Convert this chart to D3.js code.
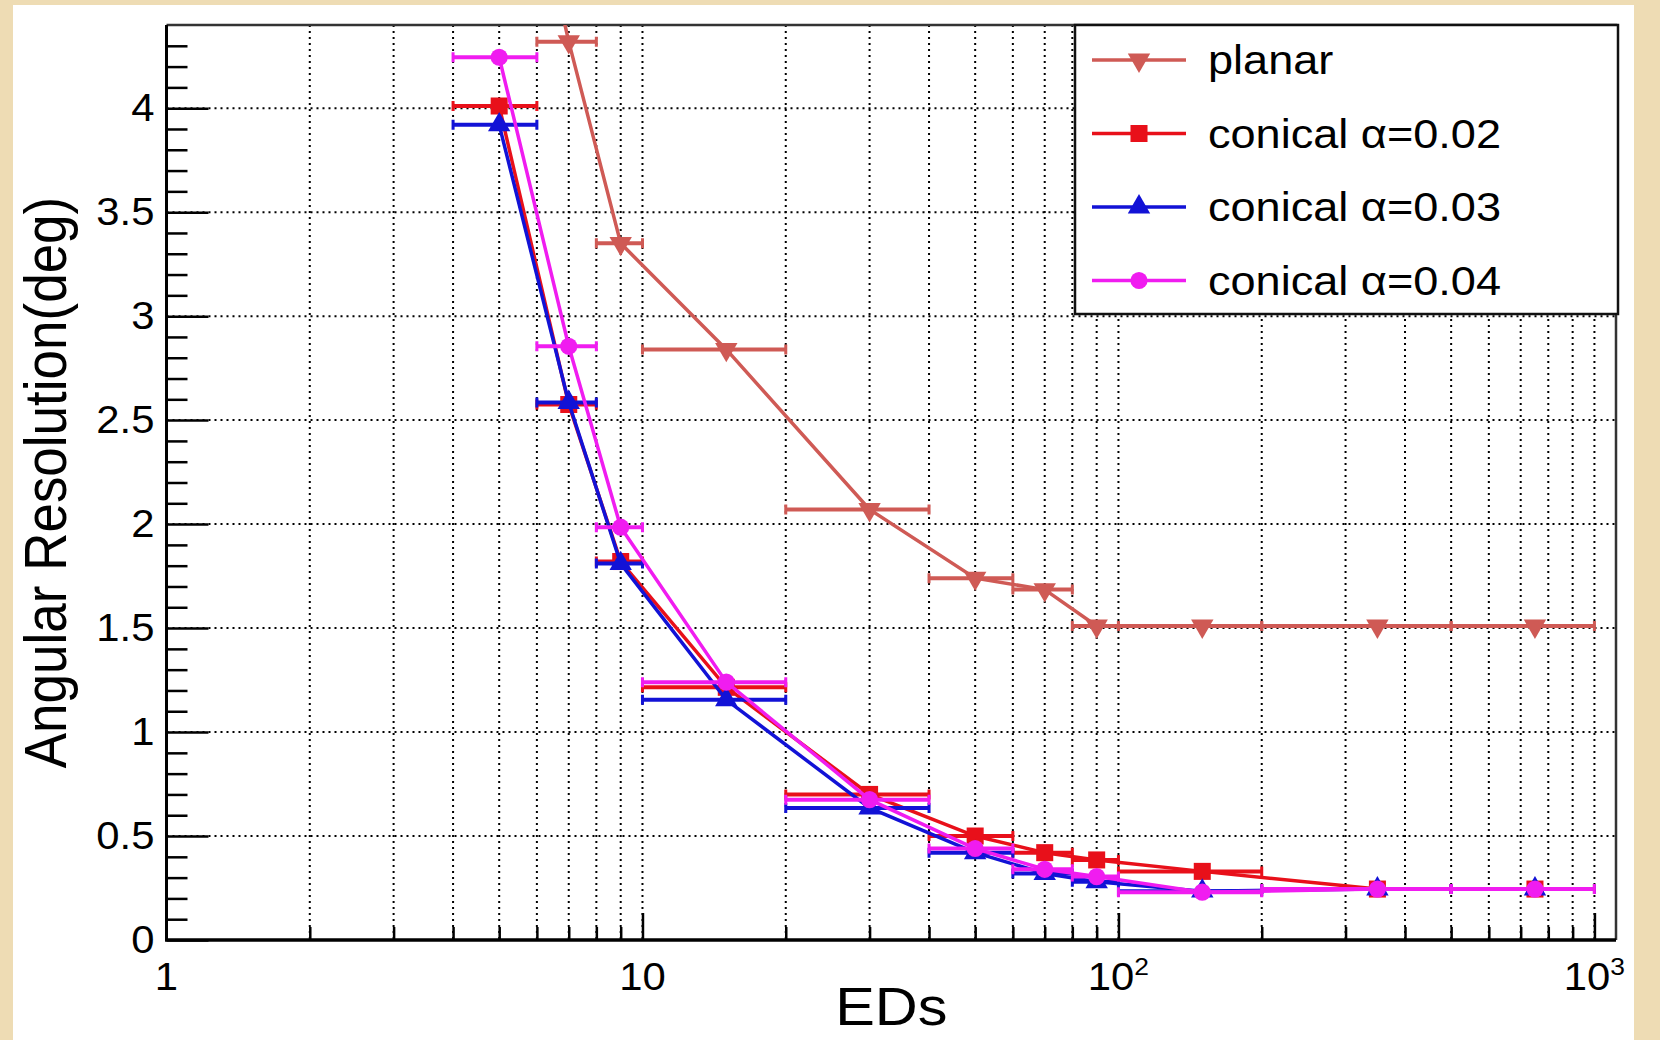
<!DOCTYPE html>
<html>
<head>
<meta charset="utf-8">
<script src="https://cdn.jsdelivr.net/npm/d3@7"></script>
<style>
  body { margin: 0; background: #eedcb4; }
  text { font-family: "Liberation Sans", Arial, Helvetica, sans-serif; fill: #000; }
</style>
</head>
<body>
<div id="chart"></div>
<script>
// bins on the x axis (EDs)
const binLow = [4, 6, 8, 10, 20, 40, 60, 80, 100, 200, 500]
const binHigh = [6, 8, 10, 20, 40, 60, 80, 100, 200, 500, 1000]
const binCenter = [5, 7, 9, 15, 30, 50, 70, 90, 150, 350, 750]

// angular resolution per series (deg)
const planar = [5.8, 4.32, 3.35, 2.84, 2.07, 1.74, 1.685, 1.51, 1.51, 1.51, 1.51]
const conical02 = [4.01, 2.575, 1.82, 1.215, 0.70, 0.50, 0.42, 0.385, 0.33, 0.245, 0.245]
const conical03 = [3.92, 2.585, 1.81, 1.155, 0.635, 0.42, 0.32, 0.28, 0.235, 0.245, 0.245]
const conical04 = [4.245, 2.855, 1.985, 1.24, 0.675, 0.44, 0.34, 0.305, 0.23, 0.245, 0.245]

const seriesNames = ["planar", "conical \u03b1=0.02", "conical \u03b1=0.03", "conical \u03b1=0.04"]
const seriesColors = ["#cf5a55", "#e8101a", "#1212d6", "#f01cf0"]
const seriesMarkers = ["triangleDown", "square", "triangle", "circle"]

// axis ticks
const yMajor = [0, 0.5, 1, 1.5, 2, 2.5, 3, 3.5, 4]
const yMinor = [0.1, 0.2, 0.3, 0.4, 0.6, 0.7, 0.8, 0.9, 1.1, 1.2, 1.3, 1.4, 1.6, 1.7, 1.8, 1.9,
  2.1, 2.2, 2.3, 2.4, 2.6, 2.7, 2.8, 2.9, 3.1, 3.2, 3.3, 3.4, 3.6, 3.7, 3.8, 3.9, 4.1, 4.2, 4.3]
const xMajor = [10, 100, 1000]
const xMinor = [2, 3, 4, 5, 6, 7, 8, 9, 20, 30, 40, 50, 60, 70, 80, 90, 200, 300, 400, 500, 600, 700, 800, 900]
const xLabelValues = [1, 10, 100, 1000]
const xLabelBase = ["1", "10", "10", "10"]
const xLabelExp = ["", "", "2", "3"]

const width = 1660
const height = 1040
const margin = {top: 25, right: 44, bottom: 100, left: 166.5}
const plotW = width - margin.left - margin.right
const plotH = height - margin.top - margin.bottom
const stretch = "scale(1.1,1)"
const markerSize = 290

var xScale = d3.scaleLog()
    .domain([1, 1110])
    .range([0, plotW])

var yScale = d3.scaleLinear()
    .domain([0, 4.4])
    .range([plotH, 0])

var svg = d3.select("#chart")
  .append("svg")
    .attr("width", width)
    .attr("height", height)

// parchment border and white canvas
svg.append("rect")
    .attr("width", width)
    .attr("height", height)
    .attr("fill", "#eedcb4")
svg.append("rect")
    .attr("x", 13)
    .attr("y", 5)
    .attr("width", 1621)
    .attr("height", height - 5)
    .attr("fill", "#fff")

var g = svg.append("g")
    .attr("transform", "translate(" + margin.left + "," + margin.top + ")")

g.append("clipPath")
    .attr("id", "clip")
  .append("rect")
    .attr("width", plotW)
    .attr("height", plotH)

// dotted grid
var grid = g.append("g")
    .attr("stroke", "#000")
    .attr("stroke-width", 2)
    .attr("stroke-dasharray", "2,4")

grid.selectAll(".vgrid")
    .data(xMinor.concat(xMajor))
    .enter()
    .append("line")
    .attr("x1", function(d) { return xScale(d); })
    .attr("x2", function(d) { return xScale(d); })
    .attr("y1", 0)
    .attr("y2", plotH)

grid.selectAll(".hgrid")
    .data(yMajor.slice(1))
    .enter()
    .append("line")
    .attr("x1", 0)
    .attr("x2", plotW)
    .attr("y1", function(d) { return yScale(d); })
    .attr("y2", function(d) { return yScale(d); })

// frame top / right
g.append("path")
    .attr("d", "M0,0H" + plotW + "V" + plotH)
    .attr("fill", "none")
    .attr("stroke", "#333")
    .attr("stroke-width", 2.5)

// y axis, ticks point into the plot
g.append("g")
    .attr("class", "y-minor")
    .call(d3.axisLeft(yScale).tickValues(yMinor).tickSize(-21).tickFormat(""))
g.append("g")
    .attr("class", "y-axis")
    .call(d3.axisLeft(yScale).tickValues(yMajor).tickSize(-42).tickPadding(11).tickFormat(d3.format("")))

g.selectAll(".y-axis text")
    .attr("font-size", 38)
    .attr("transform", stretch)

// x axis
g.append("g")
    .attr("class", "x-minor")
    .attr("transform", "translate(0," + plotH + ")")
    .call(d3.axisBottom(xScale).tickValues(xMinor).tickSize(-13).tickFormat(""))
g.append("g")
    .attr("class", "x-axis")
    .attr("transform", "translate(0," + plotH + ")")
    .call(d3.axisBottom(xScale).tickValues(xMajor).tickSize(-27).tickFormat(""))

g.selectAll(".domain").remove()
g.selectAll(".tick line")
    .attr("stroke", "#000")
    .attr("stroke-width", 2.5)

// axis lines
g.append("line")
    .attr("x1", 0).attr("x2", 0)
    .attr("y1", 0).attr("y2", plotH)
    .attr("stroke", "#000")
    .attr("stroke-width", 3)
g.append("line")
    .attr("x1", -1.5).attr("x2", plotW)
    .attr("y1", plotH).attr("y2", plotH)
    .attr("stroke", "#000")
    .attr("stroke-width", 3.5)

// x tick labels with exponents
var xLabels = g.append("g")
    .selectAll("text")
    .data(xLabelValues)
    .enter()
    .append("text")
    .attr("transform", function(d) { return "translate(" + xScale(d) + "," + (plotH + 50) + ") " + stretch; })
    .attr("text-anchor", "middle")
    .attr("font-size", 38)

xLabels.append("tspan")
    .text(function(d, i) { return xLabelBase[i]; })
xLabels.append("tspan")
    .attr("font-size", 24)
    .attr("dy", -15)
    .text(function(d, i) { return xLabelExp[i]; })

// axis titles
svg.append("text")
    .attr("transform", "translate(" + (margin.left + plotW / 2) + ",1025) " + stretch)
    .attr("text-anchor", "middle")
    .attr("font-size", 54)
    .text("EDs")

svg.append("text")
    .attr("transform", "translate(66," + (margin.top + plotH / 2) + ") " + stretch + " rotate(-90)")
    .attr("text-anchor", "middle")
    .attr("font-size", 53)
    .text("Angular Resolution(deg)")

// marker shapes
function markerPath(type, size) {
  if (type == "circle") return d3.symbol(d3.symbolCircle, size * 0.8)()
  if (type == "square") return d3.symbol(d3.symbolSquare, size)()
  return d3.symbol(d3.symbolTriangle, size * 0.75)()
}

function markerTransform(type, x, y) {
  var t = "translate(" + x + "," + y + ")"
  if (type == "triangleDown") t += " rotate(180)"
  return t
}

// draw every series: line, error bars, markers
var seriesData = [planar, conical02, conical03, conical04]

var plot = g.append("g")
    .attr("clip-path", "url(#clip)")

var line = d3.line()
    .x(function(d, i) { return xScale(binCenter[i]); })
    .y(function(d) { return yScale(d); })

seriesData.forEach(function(values, s) {
  var color = seriesColors[s]
  var sg = plot.append("g")
      .attr("class", "series" + s)

  sg.append("path")
      .datum(values)
      .attr("d", line)
      .attr("fill", "none")
      .attr("stroke", color)
      .attr("stroke-width", 3.5)

  sg.selectAll(".bar")
      .data(values)
      .enter()
      .append("line")
      .attr("x1", function(d, i) { return xScale(binLow[i]); })
      .attr("x2", function(d, i) { return xScale(binHigh[i]); })
      .attr("y1", function(d) { return yScale(d); })
      .attr("y2", function(d) { return yScale(d); })
      .attr("stroke", color)
      .attr("stroke-width", 4)

  // end caps
  sg.selectAll(".cap")
      .data(values)
      .enter()
      .append("path")
      .attr("d", function(d, i) {
        var y = yScale(d)
        return "M" + xScale(binLow[i]) + "," + (y - 5) + "v10M" + xScale(binHigh[i]) + "," + (y - 5) + "v10"
      })
      .attr("stroke", color)
      .attr("stroke-width", 3)

  sg.selectAll(".marker")
      .data(values)
      .enter()
      .append("path")
      .attr("d", markerPath(seriesMarkers[s], markerSize))
      .attr("transform", function(d, i) { return markerTransform(seriesMarkers[s], xScale(binCenter[i]), yScale(d)); })
      .attr("fill", color)
})

// legend
var legend = svg.append("g")
    .attr("transform", "translate(1075," + margin.top + ")")

legend.append("rect")
    .attr("width", 543)
    .attr("height", 289)
    .attr("fill", "#fff")
    .attr("stroke", "#111")
    .attr("stroke-width", 2.5)

var rows = legend.selectAll(".row")
    .data(seriesNames)
    .enter()
    .append("g")
    .attr("transform", function(d, i) { return "translate(0," + (35 + i * 73.5) + ")"; })

rows.append("line")
    .attr("x1", 17)
    .attr("x2", 111)
    .attr("stroke", function(d, i) { return seriesColors[i]; })
    .attr("stroke-width", 3.5)

rows.append("path")
    .attr("d", function(d, i) { return markerPath(seriesMarkers[i], markerSize); })
    .attr("transform", function(d, i) { return markerTransform(seriesMarkers[i], 64, 0); })
    .attr("fill", function(d, i) { return seriesColors[i]; })

rows.append("text")
    .attr("transform", "translate(133,0) " + stretch)
    .attr("dy", "0.35em")
    .attr("font-size", 41)
    .text(function(d) { return d; })
</script>
</body>
</html>
